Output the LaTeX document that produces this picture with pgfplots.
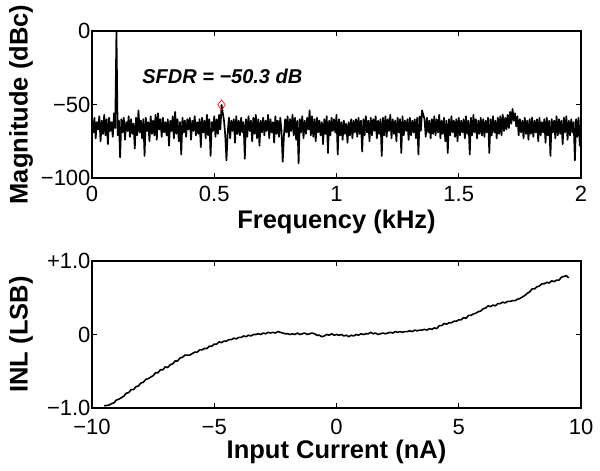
\documentclass[border=0pt]{standalone}
\usepackage{pgfplots}
\pgfplotsset{compat=1.18}
\usepackage{pgfplotstable}
\usepackage{fontspec}
\setmainfont{Liberation Sans}

\pgfplotstableread[row sep=\\]{
mag\\
-60\\ -69\\ -59\\ -73\\ -62\\ -67\\ -58\\ -75\\ -61\\ -70\\ -57\\ -71\\ -60\\ -77\\ -59\\ -68\\ -62\\ -72\\ -56\\ -66\\
0\\ -71\\ -61\\ -86\\ -60\\ -69\\ -59\\ -74\\ -62\\ -68\\ -58\\ -72\\ -60\\ -70\\ -63\\ -80\\ -59\\ -71\\ -54\\ -69\\
-61\\ -73\\ -60\\ -85\\ -59\\ -68\\ -62\\ -75\\ -58\\ -70\\ -61\\ -71\\ -57\\ -74\\ -56\\ -67\\ -60\\ -72\\ -59\\ -69\\
-62\\ -71\\ -60\\ -78\\ -61\\ -68\\ -58\\ -73\\ -55\\ -70\\ -60\\ -75\\ -62\\ -84\\ -59\\ -69\\ -61\\ -72\\ -60\\ -67\\
-59\\ -74\\ -61\\ -68\\ -58\\ -71\\ -62\\ -70\\ -60\\ -79\\ -59\\ -69\\ -61\\ -73\\ -57\\ -71\\ -60\\ -85\\ -62\\ -68\\
-58\\ -72\\ -60\\ -70\\ -57\\ -67\\ -50.3\\ -56\\ -61\\ -71\\ -88\\ -69\\ -59\\ -73\\ -61\\ -68\\ -60\\ -76\\ -58\\ -70\\
-61\\ -71\\ -59\\ -69\\ -62\\ -87\\ -60\\ -72\\ -58\\ -68\\ -61\\ -75\\ -59\\ -70\\ -57\\ -73\\ -60\\ -78\\ -61\\ -69\\
-59\\ -71\\ -61\\ -68\\ -57\\ -73\\ -60\\ -69\\ -62\\ -76\\ -58\\ -70\\ -61\\ -72\\ -59\\ -68\\ -89\\ -71\\ -60\\ -69\\
-58\\ -72\\ -60\\ -68\\ -57\\ -71\\ -59\\ -74\\ -61\\ -90\\ -60\\ -69\\ -58\\ -73\\ -61\\ -70\\ -59\\ -67\\ -54\\ -71\\
-58\\ -72\\ -60\\ -75\\ -59\\ -69\\ -61\\ -71\\ -62\\ -77\\ -60\\ -70\\ -58\\ -83\\ -61\\ -71\\ -59\\ -68\\ -60\\ -69\\
-57\\ -84\\ -60\\ -71\\ -62\\ -74\\ -61\\ -70\\ -63\\ -76\\ -62\\ -71\\ -60\\ -73\\ -61\\ -69\\ -60\\ -72\\ -59\\ -70\\
-61\\ -82\\ -60\\ -71\\ -58\\ -69\\ -61\\ -75\\ -59\\ -71\\ -60\\ -68\\ -58\\ -73\\ -61\\ -70\\ -60\\ -85\\ -59\\ -71\\
-58\\ -72\\ -60\\ -68\\ -57\\ -73\\ -60\\ -70\\ -61\\ -75\\ -59\\ -69\\ -60\\ -83\\ -58\\ -71\\ -61\\ -68\\ -60\\ -74\\
-59\\ -71\\ -61\\ -69\\ -60\\ -73\\ -59\\ -84\\ -58\\ -68\\ -54\\ -57\\ -60\\ -72\\ -59\\ -69\\ -61\\ -73\\ -60\\ -70\\
-58\\ -71\\ -60\\ -69\\ -57\\ -73\\ -61\\ -70\\ -59\\ -75\\ -61\\ -83\\ -60\\ -71\\ -58\\ -69\\ -61\\ -72\\ -60\\ -75\\
-59\\ -71\\ -61\\ -69\\ -60\\ -73\\ -58\\ -70\\ -61\\ -84\\ -59\\ -71\\ -57\\ -69\\ -60\\ -73\\ -61\\ -70\\ -59\\ -71\\
-60\\ -72\\ -61\\ -69\\ -59\\ -83\\ -60\\ -71\\ -58\\ -69\\ -61\\ -73\\ -59\\ -70\\ -58\\ -71\\ -57\\ -68\\ -59\\ -67\\
-57\\ -66\\ -55\\ -63\\ -53\\ -61\\ -56\\ -65\\ -58\\ -71\\ -60\\ -69\\ -61\\ -73\\ -59\\ -70\\ -61\\ -74\\ -60\\ -70\\
-59\\ -72\\ -61\\ -69\\ -60\\ -75\\ -59\\ -71\\ -62\\ -69\\ -60\\ -76\\ -59\\ -71\\ -61\\ -85\\ -60\\ -69\\ -61\\ -73\\
-58\\ -71\\ -60\\ -70\\ -61\\ -77\\ -59\\ -69\\ -58\\ -74\\ -61\\ -71\\ -60\\ -69\\ -62\\ -88\\ -60\\ -72\\ -59\\ -78\\
-62\\
}\spectrum

\pgfplotstableread{
x y
-9.5 -0.97
-9.4 -0.965
-9.3 -0.96
-9.2 -0.94
-9.1 -0.93
-9.0 -0.89
-8.9 -0.88
-8.8 -0.86
-8.7 -0.84
-8.6 -0.80
-8.5 -0.79
-8.4 -0.75
-8.3 -0.75
-8.2 -0.71
-8.1 -0.70
-8.0 -0.66
-7.9 -0.65
-7.8 -0.61
-7.7 -0.60
-7.6 -0.58
-7.5 -0.56
-7.4 -0.52
-7.3 -0.52
-7.2 -0.48
-7.1 -0.48
-7.0 -0.44
-6.9 -0.45
-6.8 -0.41
-6.7 -0.40
-6.6 -0.36
-6.5 -0.36
-6.4 -0.32
-6.3 -0.31
-6.2 -0.28
-6.1 -0.28
-6.0 -0.28
-5.9 -0.26
-5.8 -0.24
-5.7 -0.24
-5.6 -0.21
-5.5 -0.21
-5.4 -0.19
-5.3 -0.19
-5.2 -0.16
-5.1 -0.16
-5.0 -0.13
-4.9 -0.13
-4.8 -0.10
-4.7 -0.11
-4.6 -0.09
-4.5 -0.09
-4.4 -0.07
-4.3 -0.07
-4.2 -0.05
-4.1 -0.06
-4.0 -0.04
-3.9 -0.04
-3.8 -0.02
-3.7 -0.03
-3.6 -0.01
-3.5 -0.02
-3.4 0.00
-3.3 0.00
-3.2 0.01
-3.1 0.00
-3.0 0.02
-2.9 0.01
-2.8 0.03
-2.7 0.02
-2.6 0.03
-2.5 0.02
-2.4 0.04
-2.3 0.03
-2.2 0.02
-2.1 0.01
-2.0 0.01
-1.9 0.00
-1.8 0.01
-1.7 0.00
-1.6 0.02
-1.5 0.00
-1.4 0.01
-1.3 0.02
-1.2 0.00
-1.1 0.01
-1.0 0.02
-0.9 0.01
-0.8 -0.01
-0.7 -0.01
-0.6 -0.03
-0.5 -0.02
-0.4 0.00
-0.3 -0.01
-0.2 0.01
-0.1 -0.01
0.0 0.00
0.1 -0.01
0.2 0.00
0.3 -0.02
0.4 -0.01
0.5 -0.03
0.6 -0.01
0.7 -0.02
0.8 0.00
0.9 -0.01
1.0 0.01
1.1 0.00
1.2 0.01
1.3 0.01
1.4 0.03
1.5 0.01
1.6 0.02
1.7 0.00
1.8 0.01
1.9 0.02
2.0 0.01
2.1 0.02
2.2 0.03
2.3 0.02
2.4 0.04
2.5 0.03
2.6 0.04
2.7 0.03
2.8 0.04
2.9 0.04
3.0 0.05
3.1 0.04
3.2 0.06
3.3 0.05
3.4 0.06
3.5 0.06
3.6 0.07
3.7 0.06
3.8 0.08
3.9 0.07
4.0 0.09
4.1 0.08
4.2 0.12
4.3 0.12
4.4 0.15
4.5 0.14
4.6 0.16
4.7 0.16
4.8 0.18
4.9 0.18
5.0 0.20
5.1 0.20
5.2 0.23
5.3 0.22
5.4 0.26
5.5 0.26
5.6 0.28
5.7 0.29
5.8 0.31
5.9 0.32
6.0 0.35
6.1 0.36
6.2 0.39
6.3 0.38
6.4 0.40
6.5 0.39
6.6 0.42
6.7 0.42
6.8 0.44
6.9 0.43
7.0 0.45
7.1 0.45
7.2 0.46
7.3 0.46
7.4 0.48
7.5 0.49
7.6 0.51
7.7 0.53
7.8 0.56
7.9 0.58
8.0 0.62
8.1 0.62
8.2 0.65
8.3 0.66
8.4 0.69
8.5 0.69
8.6 0.71
8.7 0.70
8.8 0.73
8.9 0.72
9.0 0.74
9.1 0.74
9.2 0.78
9.3 0.79
9.4 0.80
9.5 0.77
}\inl

\pgfplotsset{
  mat/.style={
    scale only axis,
    width=489pt, height=147pt,
    axis line style={line width=1.3pt},
    tick style={line width=1pt, black},
    major tick length=5pt,
    tick align=inside,
    tick label style={font=\fontsize{22}{25}\selectfont},
    xticklabel style={yshift=-5pt},
    yticklabel style={xshift=2pt},
    every axis y label/.style={at={(axis description cs:-0.145,0.5)}, rotate=90, anchor=center, font=\bfseries\fontsize{25.5}{28}\selectfont},
    every axis x label/.style={at={(axis description cs:0.5,-0.30)}, anchor=center, font=\bfseries\fontsize{25.5}{28}\selectfont},
  }
}

\begin{document}
\begin{tikzpicture}
\path[use as bounding box] (0pt,0pt) rectangle (600pt,471pt);
\begin{axis}[mat,
  at={(92pt,293pt)}, anchor=south west,
  xmin=0, xmax=2, ymin=-100, ymax=0,
  xtick={0,0.5,1,1.5,2},
  xticklabels={0,0.5,1,1.5,2},
  ytick={-100,-50,0},
  yticklabels={−100,−50,0},
  xlabel={Frequency (kHz)},
  ylabel={Magnitude (dBc)},
]
\addplot[black, line width=1.7pt, line join=round] table[x expr=\coordindex*0.005, y index=0] {\spectrum};
\addplot[only marks, mark=diamond, mark size=5pt, red, mark options={line width=0.6pt}] coordinates {(0.53,-50.3)};
\node[font=\bfseries\itshape\fontsize{20}{24}\selectfont, anchor=center] at (axis cs:0.533,-31) {SFDR = −50.3 dB};
\end{axis}
\begin{axis}[mat,
  at={(92pt,63pt)}, anchor=south west,
  xmin=-10, xmax=10, ymin=-1, ymax=1,
  xtick={-10,-5,0,5,10},
  xticklabels={−10\hspace{8pt},−5\hspace{10pt},0,5,10},
  xticklabel style={yshift=-3pt},
  ytick={-1,0,1},
  yticklabels={−1.0,0,+1.0},
  xlabel={Input Current (nA)},
  ylabel={INL (LSB)},
]
\addplot[black, line width=1.6pt, line join=round] table[x=x, y=y] {\inl};
\end{axis}
\end{tikzpicture}
\end{document}
